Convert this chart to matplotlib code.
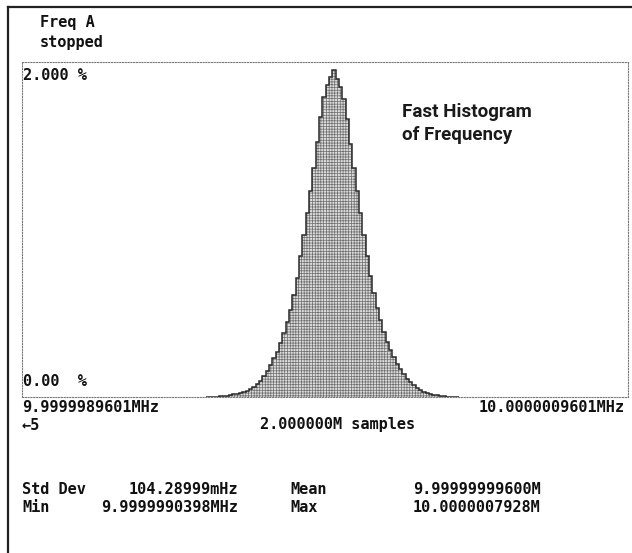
import numpy as np
import matplotlib
matplotlib.use("Agg")
import matplotlib.pyplot as plt
from matplotlib.lines import Line2D

# ---- data ----
# frequency axis: offset in Hz from 9.9999989601 MHz; span 2 Hz
x_min_hz = 0.0
x_max_hz = 2.0
bin_start_hz = 0.6057
bin_width_hz = 0.011
pct_left = [0.000, 0.000, 0.001, 0.002, 0.004, 0.006, 0.008, 0.011, 0.015, 0.019,
            0.024, 0.030, 0.038, 0.048, 0.062, 0.078, 0.098, 0.125, 0.155, 0.190,
            0.230, 0.270, 0.320, 0.380, 0.450, 0.520, 0.610, 0.710, 0.840, 0.970,
            1.100, 1.230, 1.370, 1.520, 1.670, 1.790, 1.860, 1.910]
pct_peak = [1.950]
pct_right = [1.900, 1.850, 1.780, 1.660, 1.510, 1.370, 1.230, 1.100, 0.970, 0.840,
             0.720, 0.620, 0.530, 0.460, 0.390, 0.330, 0.280, 0.240, 0.200, 0.165,
             0.135, 0.110, 0.088, 0.070, 0.055, 0.042, 0.032, 0.024, 0.018, 0.013,
             0.009, 0.006, 0.004, 0.002, 0.001, 0.000, 0.000]
y_top_label = "2.000 %"
y_bottom_label = "0.00  %"
x_left_label = "9.9999989601MHz"
x_right_label = "10.0000009601MHz"
status_lines = ["Freq A", "stopped"]
stat_names = [["Std Dev", "Mean"], ["Min", "Max"]]
stat_values = [["104.28999mHz", "9.99999999600M"], ["9.9999990398MHz", "10.0000007928M"]]
title_lines = ["Fast Histogram", "of Frequency"]

pct_values = np.array(pct_left + pct_peak + pct_right)

W, H = 632, 553
fig = plt.figure(figsize=(W / 100, H / 100), dpi=100)
fig.patch.set_facecolor("white")

def fx(x):
    return x / W

def fy(y):
    return 1 - y / H

# outer frame (left + top)
fig.add_artist(Line2D([fx(8), fx(8)], [fy(7), 0], color="#222222", lw=1.6))
fig.add_artist(Line2D([fx(8), 1], [fy(7), fy(7)], color="#222222", lw=1.6))

left, right, top, bottom = 22, 628, 62, 397
ax = fig.add_axes([fx(left), fy(bottom), (right - left) / W, (bottom - top) / H])
ax.set_xlim(x_min_hz, x_max_hz)
ax.set_ylim(0, 2.0)
ax.set_xticks([])
ax.set_yticks([])
for s in ax.spines.values():
    s.set_linestyle((0, (1, 1.5)))
    s.set_color("#7a7a7a")
    s.set_linewidth(0.8)
ax.set_facecolor("none")

edges = bin_start_hz + bin_width_hz * np.arange(len(pct_values) + 1)
plt.rcParams["hatch.linewidth"] = 0.5
ax.stairs(pct_values, edges, fill=True, facecolor="#dcdcdc", edgecolor="#6e6e6e",
          hatch="++++++", linewidth=0)
ax.stairs(pct_values, edges, color="#2a2a2a", linewidth=1.1)

mono = dict(family="DejaVu Sans Mono", fontweight="bold", fontsize=11, color="#111111")

fig.text(fx(40), fy(22), status_lines[0], va="center", ha="left", **mono)
fig.text(fx(40), fy(42), status_lines[1], va="center", ha="left", **mono)
fig.text(fx(23), fy(76), y_top_label, va="center", ha="left", **mono)
fig.text(fx(23), fy(381), y_bottom_label, va="center", ha="left", **mono)
fig.text(fx(22), fy(408), x_left_label, va="center", ha="left", **mono)
fig.text(fx(625), fy(408), x_right_label, va="center", ha="right", **mono)
fig.text(fx(22), fy(425), "←5", va="center", ha="left", **mono)
fig.text(fx(338), fy(425), "2.000000M samples", va="center", ha="center", **mono)

for i, yy in enumerate([490, 508]):
    fig.text(fx(22), fy(yy), stat_names[i][0], va="center", ha="left", **mono)
    fig.text(fx(238), fy(yy), stat_values[i][0], va="center", ha="right", **mono)
    fig.text(fx(290), fy(yy), stat_names[i][1], va="center", ha="left", **mono)
    fig.text(fx(413), fy(yy), stat_values[i][1], va="center", ha="left", **mono)

tfont = dict(family=["Roboto", "DejaVu Sans"], fontweight="bold",
             fontsize=13.5, color="#1a1a1a")
fig.text(fx(402), fy(112), title_lines[0], va="center", ha="left", **tfont)
fig.text(fx(402), fy(135), title_lines[1], va="center", ha="left", **tfont)

fig.savefig("out.png", dpi=100, facecolor="white")
